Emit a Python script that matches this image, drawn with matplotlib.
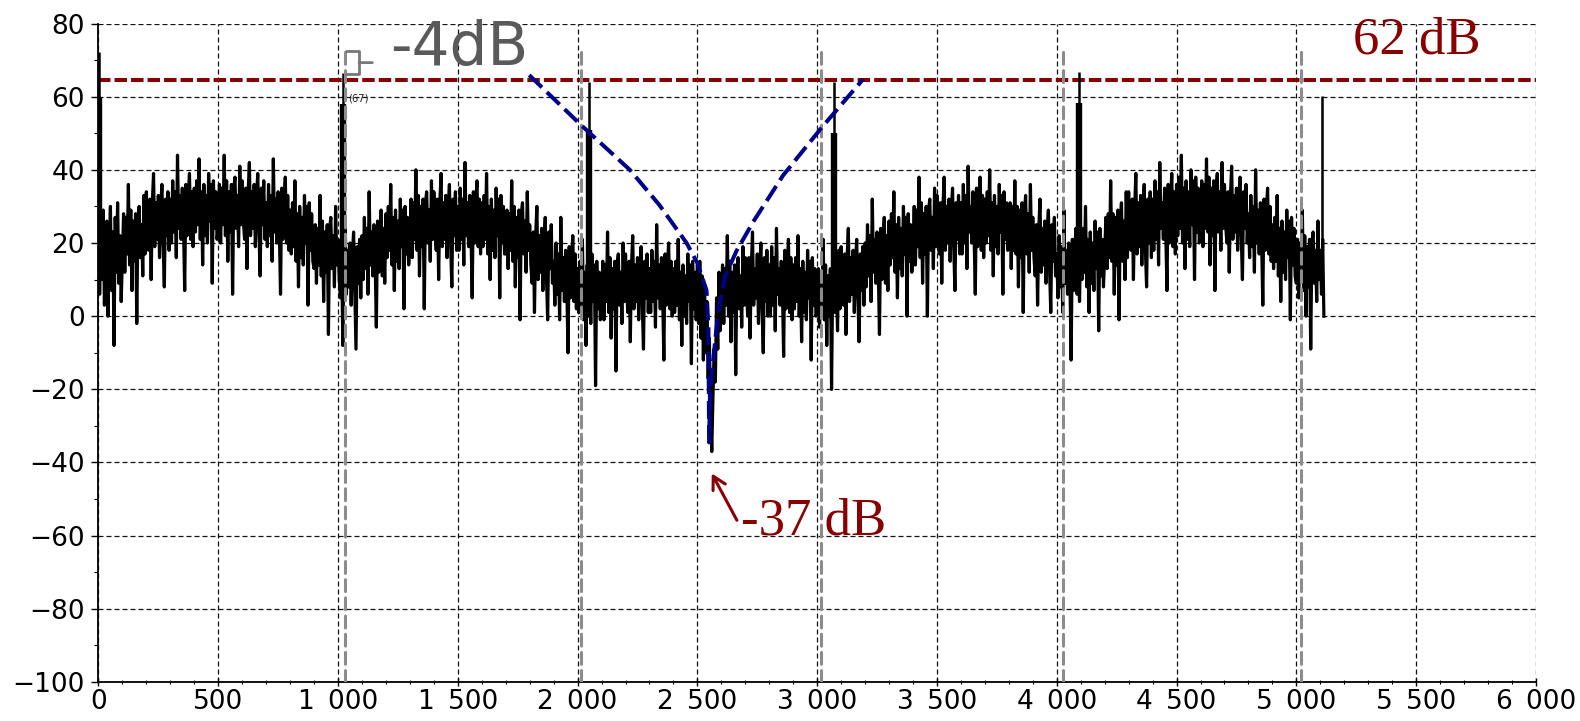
import numpy as np
import matplotlib
matplotlib.use("Agg")
import matplotlib.pyplot as plt
from matplotlib.ticker import MultipleLocator

# Spectrum magnitude (dB), one value every 5 bins starting at bin 0 (20 values per 100 bins)
bin_step = 5
level_db = [
    27, 6, 24, 10, 29, 3, 21, 26, 0, 18, 30, 7, 23, -8, 27, 12, 31, 9, 22, 4,
    16, 28, 12, 27, 17, 36, 14, 29, 7, 26, 15, 28, -2, 27, 30, 16, 25, 11, 33, 17,
    34, 23, 18, 32, 10, 31, 39, 19, 31, 21, 33, 16, 30, 36, 20, 8, 32, 22, 34, 18,
    32, 20, 37, 23, 34, 16, 44, 24, 33, 21, 35, 25, 7, 36, 22, 33, 39, 21, 34, 19,
    35, 23, 37, 25, 43, 21, 34, 14, 36, 22, 33, 20, 39, 26, 36, 9, 37, 24, 34, 21,
    24, 36, 20, 35, 25, 44, 22, 37, 15, 34, 23, 36, 6, 35, 38, 24, 33, 19, 41, 25,
    37, 26, 21, 35, 13, 34, 42, 22, 34, 24, 36, 19, 33, 39, 23, 11, 35, 25, 37, 21,
    31, 19, 36, 22, 33, 15, 43, 23, 32, 20, 34, 24, 6, 35, 21, 32, 38, 20, 33, 18,
    29, 17, 31, 19, 37, 15, 28, 8, 30, 16, 27, 14, 33, 20, 30, 3, 31, 18, 28, 15,
    13, 25, 9, 24, 14, 33, 11, 26, 4, 23, 12, 25, -5, 24, 27, 13, 22, 8, 30, 14,
    21, 10, 5, 19, -8, 18, 26, 6, 18, 8, 20, 3, 17, 23, 7, -9, 19, 9, 21, 5,
    22, 10, 27, 13, 24, 6, 34, 14, 23, 11, 25, 15, -3, 26, 12, 23, 29, 11, 24, 9,
    28, 16, 30, 18, 36, 14, 27, 7, 29, 15, 26, 13, 32, 19, 29, 2, 30, 17, 27, 14,
    20, 32, 16, 31, 21, 40, 18, 33, 11, 30, 19, 32, 2, 31, 34, 20, 29, 15, 37, 21,
    34, 23, 18, 32, 10, 31, 39, 19, 31, 21, 33, 16, 30, 36, 20, 8, 32, 22, 34, 18,
    30, 18, 35, 21, 32, 14, 42, 22, 31, 19, 33, 23, 5, 34, 20, 31, 37, 19, 32, 17,
    31, 19, 33, 21, 39, 17, 30, 10, 32, 18, 29, 16, 35, 22, 32, 5, 33, 20, 30, 17,
    17, 29, 13, 28, 18, 37, 15, 30, 8, 27, 16, 29, -1, 28, 31, 17, 26, 12, 34, 18,
    25, 14, 9, 23, 1, 22, 30, 10, 22, 12, 24, 7, 21, 27, 11, -1, 23, 13, 25, 9,
    15, 3, 20, 6, 17, -1, 27, 7, 16, 4, 18, 8, -10, 19, 5, 16, 22, 4, 17, 2,
    13, 1, 15, 3, 21, -1, 12, -8, 14, 0, 11, -2, 17, 4, 14, -19, 15, 2, 12, -1,
    3, 15, -1, 14, 4, 23, 1, 16, -6, 13, 2, 15, -15, 14, 17, 3, 12, -2, 20, 4,
    17, 6, 1, 15, -7, 14, 22, 2, 14, 4, 16, -1, 13, 19, 3, -9, 15, 5, 17, 1,
    13, 1, 18, 4, 15, -3, 25, 5, 14, 2, 16, 6, -12, 17, 3, 14, 20, 2, 15, 0,
    13, 1, 15, 3, 21, -1, 12, -8, 14, 0, 11, -2, 17, 4, 14, -13, 15, 2, 12, -1,
    14, -2, 15, -6, 11, -12, 8, -10, 4, -17, -6, -26, -37, -22, -9, -18, 5, -9, 12, -4,
    2, 14, -2, 13, 3, 22, 0, 15, -7, 12, 1, 14, -16, 13, 16, 2, 11, -3, 19, 3,
    16, 7, 0, 16, -6, 13, 23, 3, 13, 5, 17, -2, 12, 20, 2, -10, 16, 4, 18, 0,
    14, 0, 19, 3, 16, -4, 24, 6, 13, 3, 15, 7, -11, 18, 2, 13, 21, 1, 16, -1,
    14, 2, 16, 4, 22, 0, 13, -7, 15, 1, 12, -1, 18, 5, 15, -12, 16, 3, 13, 0,
    1, 13, -3, 12, 2, 21, -1, 14, -8, 11, 0, 13, -20, 12, 15, 1, 10, -4, 18, 2,
    19, 8, 3, 17, -5, 16, 24, 4, 16, 6, 18, 1, 15, 21, 5, -7, 17, 7, 19, 3,
    20, 8, 25, 11, 22, 4, 32, 12, 21, 9, 23, 13, -5, 24, 10, 21, 27, 9, 22, 7,
    26, 14, 28, 16, 34, 12, 25, 5, 27, 13, 24, 11, 30, 17, 27, 0, 28, 15, 25, 12,
    18, 30, 14, 29, 19, 38, 16, 31, 9, 28, 17, 30, 0, 29, 32, 18, 27, 13, 35, 19,
    33, 22, 17, 31, 9, 30, 38, 18, 30, 20, 32, 15, 29, 35, 19, 7, 31, 21, 33, 17,
    31, 17, 36, 20, 33, 13, 41, 23, 30, 20, 34, 22, 6, 35, 19, 30, 38, 18, 33, 16,
    32, 20, 34, 22, 40, 18, 31, 11, 33, 19, 30, 17, 36, 23, 33, 6, 34, 21, 31, 18,
    19, 31, 13, 30, 18, 37, 17, 30, 8, 29, 16, 31, 1, 28, 33, 17, 28, 12, 36, 18,
    27, 16, 11, 25, 3, 24, 32, 12, 24, 14, 26, 9, 23, 29, 13, 1, 25, 15, 27, 11,
    17, 5, 22, 8, 19, 1, 29, 9, 18, 6, 20, 10, -12, 21, 7, 18, 24, 6, 19, 4,
    22, 10, 24, 12, 30, 8, 21, 1, 23, 9, 20, 7, 26, 13, 23, -4, 24, 11, 21, 8,
    17, 27, 13, 28, 16, 37, 15, 28, 6, 27, 14, 29, -1, 26, 31, 15, 26, 10, 34, 16,
    34, 21, 18, 32, 10, 29, 39, 17, 31, 19, 33, 14, 30, 36, 18, 8, 32, 20, 34, 16,
    32, 18, 37, 21, 34, 14, 42, 24, 31, 21, 35, 23, 7, 36, 20, 31, 39, 19, 34, 17,
    36, 22, 38, 24, 44, 20, 35, 13, 37, 21, 34, 19, 40, 25, 37, 10, 38, 23, 35, 20,
    25, 37, 19, 36, 24, 43, 23, 38, 14, 35, 22, 37, 7, 34, 39, 23, 34, 18, 42, 24,
    36, 25, 20, 34, 12, 33, 41, 21, 33, 23, 35, 18, 32, 38, 22, 10, 34, 24, 36, 20,
    28, 16, 33, 19, 30, 12, 40, 20, 29, 17, 31, 21, 3, 32, 18, 29, 35, 17, 30, 15,
    25, 13, 27, 15, 33, 11, 24, 4, 26, 12, 23, 10, 29, 16, 26, -1, 27, 14, 24, 11,
    9, 21, 5, 20, 10, 29, 7, 22, 0, 19, 8, 21, -9, 20, 23, 9, 18, 4, 26, 10,
    18, 6, 21, 0,
]

# Tones: peak bin, peak level, leakage shoulder level and the level the shoulder rises from
tone_bins = [2, 1022, 2048, 3071, 4094, 5108]
tone_peak_db = [72.2, 66.5, 64.0, 64.0, 66.8, 60.2]
tone_shoulder_db = [60.0, 58.0, 51.0, 50.0, 58.3, 10.0]
tone_floor_db = 10.0

# Reference markers and threshold
marker_bins = [1030, 2015, 3016, 4024, 5019]
marker_top_db = 73.3
threshold_db = 64.5

# Envelope bound around the null
bound_bins = [1798, 2015, 2218, 2340, 2455, 2500, 2538, 2546, 2549,
              2553, 2566, 2577, 2591, 2615, 2663, 2733, 2858, 3018, 3192]
bound_db = [65.9, 52.2, 40.0, 30.5, 20.0, 14.5, 7.1, -3.0, -34.5,
            -20.0, -12.0, -5.0, 2.6, 10.8, 17.8, 25.8, 38.5, 51.5, 64.8]

# Annotations
null_bin, null_db = 2560, -43.0
null_text_pos = (2682, -59.8)
null_arrow_tail = (2665, -55.8)
null_label = "-37 dB"
threshold_label = "62 dB"
threshold_text_pos = (5236, 71.85)
drop_label = "-4dB"
drop_text_pos = (1217, 68.65)
drop_bracket_xy = (1088, 69.3)
drop_bracket_tail = (1143, 69.3)
peak_note = "(67)"
peak_note_pos = (1041, 59.4)

x_ticks = [0, 500, 1000, 1500, 2000, 2500, 3000, 3500, 4000, 4500, 5000, 5500, 6000]
x_tick_labels = ["0", "500", "1\u2002000", "1\u2002500", "2\u2002000", "2\u2002500",
                 "3\u2002000", "3\u2002500", "4\u2002000", "4\u2002500",
                 "5\u2002000", "5\u2002500", "6\u2002000"]
y_ticks = [-100, -80, -60, -40, -20, 0, 20, 40, 60, 80]

DARK_RED = "#880000"
NAVY = "#00008b"

fig = plt.figure(figsize=(15.8, 7.21), dpi=100)
ax = fig.add_axes([0.0623, 0.0541, 0.9098, 0.9133])

bins = np.arange(len(level_db)) * bin_step

ax.axhline(threshold_db, color=DARK_RED, lw=2.9, linestyle=(0, (3.1, 1.0)), zorder=2)

ax.plot(bins, level_db, color="black", lw=2.3, zorder=3)
ax.vlines(tone_bins, tone_floor_db, tone_shoulder_db, colors="black", lw=4.6, zorder=3)
ax.vlines(tone_bins, tone_floor_db, tone_peak_db, colors="black", lw=1.8, zorder=3)

ax.vlines(marker_bins, -100, marker_top_db, colors="#8c8c8c", lw=2.2,
          linestyles=[(0, (3.9, 2.05))], capstyle="round", zorder=4)

ax.plot(bound_bins, bound_db, color=NAVY, lw=2.9, linestyle=(0, (4.4, 1.7)), zorder=5)

ax.text(threshold_text_pos[0], threshold_text_pos[1], threshold_label,
        fontsize=38, family="Liberation Serif", color=DARK_RED,
        ha="left", va="baseline", zorder=6)
ax.text(null_text_pos[0], null_text_pos[1], null_label,
        fontsize=38, family="Liberation Serif", color=DARK_RED,
        ha="left", va="baseline", zorder=6)
ax.annotate("", xy=(null_bin, null_db), xytext=null_arrow_tail,
            arrowprops=dict(arrowstyle="->,head_length=0.45,head_width=0.25",
                            color=DARK_RED, lw=2.2, shrinkA=0, shrinkB=0,
                            mutation_scale=20), zorder=6)

ax.text(drop_text_pos[0], drop_text_pos[1], drop_label, fontsize=43,
        color="#5a5a5a", ha="left", va="baseline", zorder=6)
ax.annotate("", xy=drop_bracket_xy, xytext=drop_bracket_tail,
            arrowprops=dict(arrowstyle="-[, widthB=8.4, lengthB=9.4",
                            mutation_scale=1, shrinkA=0, shrinkB=0, lw=2.0,
                            color="#777777", joinstyle="round", capstyle="round"),
            zorder=6)
ax.text(peak_note_pos[0], peak_note_pos[1], peak_note, fontsize=7.2,
        color="#222222", ha="left", va="center", zorder=6)

ax.set_xlim(0, 6000)
ax.set_ylim(-100, 80)
ax.set_xticks(x_ticks)
ax.set_xticklabels(x_tick_labels)
ax.set_yticks(y_ticks)
ax.xaxis.set_minor_locator(MultipleLocator(100))
ax.yaxis.set_minor_locator(MultipleLocator(10))

ax.tick_params(axis="both", which="major", labelsize=19, colors="black")
ax.tick_params(axis="x", which="major", direction="inout", length=6, width=1.0, pad=2)
ax.tick_params(axis="x", which="minor", direction="inout", length=3.5, width=0.8)
ax.tick_params(axis="y", which="major", direction="out", length=4.7, width=1.0, pad=5)
ax.tick_params(axis="y", which="minor", direction="out", length=3, width=0.8)

ax.grid(True, which="major", color="#111111", lw=0.9, linestyle=(0, (4, 2.4)))
ax.set_axisbelow(True)
for side in ("top", "right"):
    ax.spines[side].set_visible(False)
for side in ("left", "bottom"):
    ax.spines[side].set_linewidth(1.3)

fig.savefig("out.png", dpi=100, facecolor="white")
